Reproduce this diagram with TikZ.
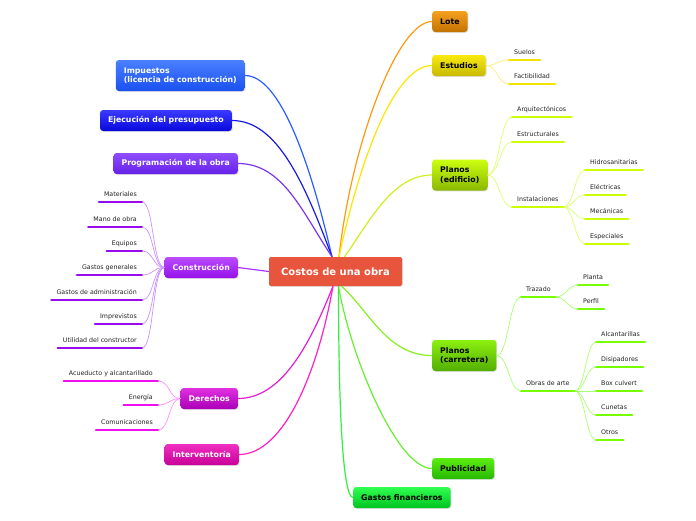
\documentclass[tikz,border=0pt]{standalone}
\usepackage{fontspec}
\setmainfont{DejaVu Sans}
\usepackage{xcolor}
\usepackage{tikz}
\usetikzlibrary{shadows}

\definecolor{rootred}{HTML}{E8553D}
\definecolor{subtext}{HTML}{222222}
% connectors
\definecolor{cImp}{HTML}{2A5CFF}
\definecolor{cEje}{HTML}{1A1AE6}
\definecolor{cPro}{HTML}{7A35F0}
\definecolor{cCon}{HTML}{A838FF}
\definecolor{cDer}{HTML}{E020D0}
\definecolor{cInt}{HTML}{FF20C8}
\definecolor{cLot}{HTML}{FF9A10}
\definecolor{cEst}{HTML}{FFE600}
\definecolor{cPle}{HTML}{CCF020}
\definecolor{cPca}{HTML}{88F020}
\definecolor{cPub}{HTML}{66F030}
\definecolor{cGas}{HTML}{30F040}
% topic boxes (top / bottom)
\definecolor{tImp}{HTML}{4A80FF}\definecolor{dImp}{HTML}{1A50F0}
\definecolor{tEje}{HTML}{3A3AFF}\definecolor{dEje}{HTML}{0808DD}
\definecolor{tPro}{HTML}{8F4DFF}\definecolor{dPro}{HTML}{6622E8}
\definecolor{tCon}{HTML}{BB4DFF}\definecolor{dCon}{HTML}{9510E8}
\definecolor{tDer}{HTML}{E030E0}\definecolor{dDer}{HTML}{AA00B8}
\definecolor{tInt}{HTML}{F030C0}\definecolor{dInt}{HTML}{C80098}
\definecolor{tLot}{HTML}{F5A020}\definecolor{dLot}{HTML}{C27200}
\definecolor{tEst}{HTML}{F8EA10}\definecolor{dEst}{HTML}{C9B900}
\definecolor{tPle}{HTML}{CCFF10}\definecolor{dPle}{HTML}{8AB800}
\definecolor{tPca}{HTML}{8CF010}\definecolor{dPca}{HTML}{52AE00}
\definecolor{tPub}{HTML}{5CEE10}\definecolor{dPub}{HTML}{26B800}
\definecolor{tGas}{HTML}{30FF50}\definecolor{dGas}{HTML}{00C420}
% subtopic bars / links
\definecolor{bCon}{HTML}{9A0AEE}\definecolor{lCon}{HTML}{CC90FF}
\definecolor{bDer}{HTML}{EE10EE}\definecolor{lDer}{HTML}{FF90FF}
\definecolor{bEst}{HTML}{F5E200}\definecolor{lEst}{HTML}{FFEE70}
\definecolor{bPle}{HTML}{CCFF00}\definecolor{lPle}{HTML}{DDFF70}
\definecolor{bPca}{HTML}{77FF00}\definecolor{lPca}{HTML}{AAFF70}

\tikzset{
  topic/.style 2 args={rounded corners=3pt, top color=#1, bottom color=#2,
    minimum height=21pt, inner xsep=8pt, inner ysep=3pt, align=left,
    font=\fontsize{7.8}{9.6}\selectfont\bfseries,
    drop shadow={opacity=0.25, shadow xshift=0.8pt, shadow yshift=-0.8pt}},
  twoline/.style={minimum height=31pt},
  root/.style={fill=rootred, text=white, rounded corners=2pt,
    font=\fontsize{10}{12}\selectfont\bfseries,
    minimum width=133pt, minimum height=29pt,
    drop shadow={opacity=0.25, shadow xshift=0.8pt, shadow yshift=-0.8pt}},
  sub/.style={font=\fontsize{6.3}{7}\selectfont, text=subtext,
    inner xsep=5pt, inner ysep=0pt, text height=4.6pt, text depth=5.5pt,
    append after command={(\tikzlastnode.south west)
      edge[draw=#1, line width=2.4pt, line cap=round] (\tikzlastnode.south east)}},
  conn/.style={draw=#1, line width=1.2pt},
  subconn/.style={draw=#1, line width=0.7pt},
}

\begin{document}
\begin{tikzpicture}[x=1pt, y=-1pt]
\useasboundingbox[fill=white] (0,0) rectangle (696,520);

% centre
\node[root] (root) at (335.5,271.5) {Costos de una obra};
\coordinate (tl) at ([xshift=-3.5pt]root.north);
\coordinate (tr) at ([xshift=3.5pt]root.north);
\coordinate (trr) at ([xshift=9pt]root.north);
\coordinate (bl) at ([xshift=-2.5pt]root.south);
\coordinate (br) at ([xshift=3pt]root.south);
\coordinate (brr) at ([xshift=6pt]root.south);

% left topics
\node[topic={tImp}{dImp}, twoline, text=white, anchor=east] (imp) at (245,75.5) {Impuestos\\(licencia de construcción)};
\node[topic={tEje}{dEje}, text=white, anchor=east] (eje) at (232,120.5) {Ejecución del presupuesto};
\node[topic={tPro}{dPro}, text=white, anchor=east] (pro) at (238,163.5) {Programación de la obra};
\node[topic={tCon}{dCon}, text=white, anchor=east] (con) at (238,267.5) {Construcción};
\node[topic={tDer}{dDer}, text=white, anchor=east] (der) at (238,398.5) {Derechos};
\node[topic={tInt}{dInt}, text=white, anchor=east] (int) at (239,454.5) {Interventoría};

% right topics
\node[topic={tLot}{dLot}, anchor=west] (lot) at (432,21.5) {Lote};
\node[topic={tEst}{dEst}, anchor=west] (estu) at (432,65.5) {Estudios};
\node[topic={tPle}{dPle}, twoline, anchor=west] (ple) at (432,175) {Planos\\(edificio)};
\node[topic={tPca}{dPca}, twoline, anchor=west] (pca) at (432,355.5) {Planos\\(carretera)};
\node[topic={tPub}{dPub}, anchor=west] (pub) at (432,468.5) {Publicidad};
\node[topic={tGas}{dGas}, anchor=west] (gas) at (353,497.5) {Gastos financieros};

% main connectors
\draw[conn=cImp] (imp.east) .. controls +(35,0) and +(-22,-95) .. (tl);
\draw[conn=cEje] (eje.east) .. controls +(45,0) and +(-28,-75) .. (tl);
\draw[conn=cPro] (pro.east) .. controls +(45,0) and +(-30,-45) .. (tl);
\draw[conn=cCon] (con.east) -- (root.west);
\draw[conn=cDer] (der.east) .. controls +(45,0) and +(-22,55) .. (bl);
\draw[conn=cInt] (int.east) .. controls +(45,0) and +(-15,85) .. (bl);
\draw[conn=cLot] (lot.west) .. controls +(-35,0) and +(12,-110) .. (tr);
\draw[conn=cEst] (estu.west) .. controls +(-40,0) and +(18,-85) .. (tr);
\draw[conn=cPle] (ple.west) .. controls +(-40,0) and +(25,-35) .. (trr);
\draw[conn=cPca] (pca.west) .. controls +(-45,0) and +(28,25) .. (brr);
\draw[conn=cPub] (pub.west) .. controls +(-35,0) and +(12,70) .. (br);
\draw[conn=cGas] (gas.west) .. controls +(-12,0) and +(0,90) .. (br);

% Construccion
\node[sub=bCon, anchor=south east] (mat) at (142,202) {Materiales};
\node[sub=bCon, anchor=south east] (mano) at (142,227) {Mano de obra};
\node[sub=bCon, anchor=south east] (equ) at (142,251) {Equipos};
\node[sub=bCon, anchor=south east] (ggen) at (142,275) {Gastos generales};
\node[sub=bCon, anchor=south east] (gadm) at (142,300) {Gastos de administración};
\node[sub=bCon, anchor=south east] (impr) at (142,324) {Imprevistos};
\node[sub=bCon, anchor=south east] (util) at (142,348) {Utilidad del constructor};
\foreach \n in {mat,mano,equ,ggen,gadm,impr,util}
  \draw[subconn=lCon] (con.west) .. controls +(-12,0) and +(12,0) .. (\n.south east);

% Derechos
\node[sub=bDer, anchor=south east] (acu) at (158,381) {Acueducto y alcantarillado};
\node[sub=bDer, anchor=south east] (ene) at (158,405) {Energía};
\node[sub=bDer, anchor=south east] (com) at (158,430) {Comunicaciones};
\foreach \n in {acu,ene,com}
  \draw[subconn=lDer] (der.west) .. controls +(-12,0) and +(12,0) .. (\n.south east);

% Estudios
\node[sub=bEst, anchor=south west] (sue) at (509,60) {Suelos};
\node[sub=bEst, anchor=south west] (fac) at (509,84) {Factibilidad};
\foreach \n in {sue,fac}
  \draw[subconn=lEst] (estu.east) .. controls +(12,0) and +(-12,0) .. (\n.south west);

% Planos (edificio)
\node[sub=bPle, anchor=south west] (arq) at (512,117) {Arquitectónicos};
\node[sub=bPle, anchor=south west] (estr) at (512,142) {Estructurales};
\node[sub=bPle, anchor=south west] (ins) at (512,207) {Instalaciones};
\foreach \n in {arq,estr,ins}
  \draw[subconn=lPle] (ple.east) .. controls +(12,0) and +(-12,0) .. (\n.south west);
\node[sub=bPle, anchor=south west] (hid) at (585,170) {Hidrosanitarias};
\node[sub=bPle, anchor=south west] (ele) at (585,195) {Eléctricas};
\node[sub=bPle, anchor=south west] (mec) at (585,219) {Mecánicas};
\node[sub=bPle, anchor=south west] (esp) at (585,244) {Especiales};
\foreach \n in {hid,ele,mec,esp}
  \draw[subconn=lPle] (ins.south east) .. controls +(10,0) and +(-10,0) .. (\n.south west);

% Planos (carretera)
\node[sub=bPca, anchor=south west] (tra) at (521,297) {Trazado};
\node[sub=bPca, anchor=south west] (oda) at (521,391) {Obras de arte};
\foreach \n in {tra,oda}
  \draw[subconn=lPca] (pca.east) .. controls +(12,0) and +(-12,0) .. (\n.south west);
\node[sub=bPca, anchor=south west] (pla) at (578,285) {Planta};
\node[sub=bPca, anchor=south west] (per) at (578,309) {Perfil};
\foreach \n in {pla,per}
  \draw[subconn=lPca] (tra.south east) .. controls +(10,0) and +(-10,0) .. (\n.south west);
\node[sub=bPca, anchor=south west] (alc) at (596,342) {Alcantarillas};
\node[sub=bPca, anchor=south west] (dis) at (596,367) {Disipadores};
\node[sub=bPca, anchor=south west] (box) at (596,391) {Box culvert};
\node[sub=bPca, anchor=south west] (cun) at (596,415) {Cunetas};
\node[sub=bPca, anchor=south west] (otr) at (596,440) {Otros};
\foreach \n in {alc,dis,box,cun,otr}
  \draw[subconn=lPca] (oda.south east) .. controls +(10,0) and +(-10,0) .. (\n.south west);
\end{tikzpicture}
\end{document}
